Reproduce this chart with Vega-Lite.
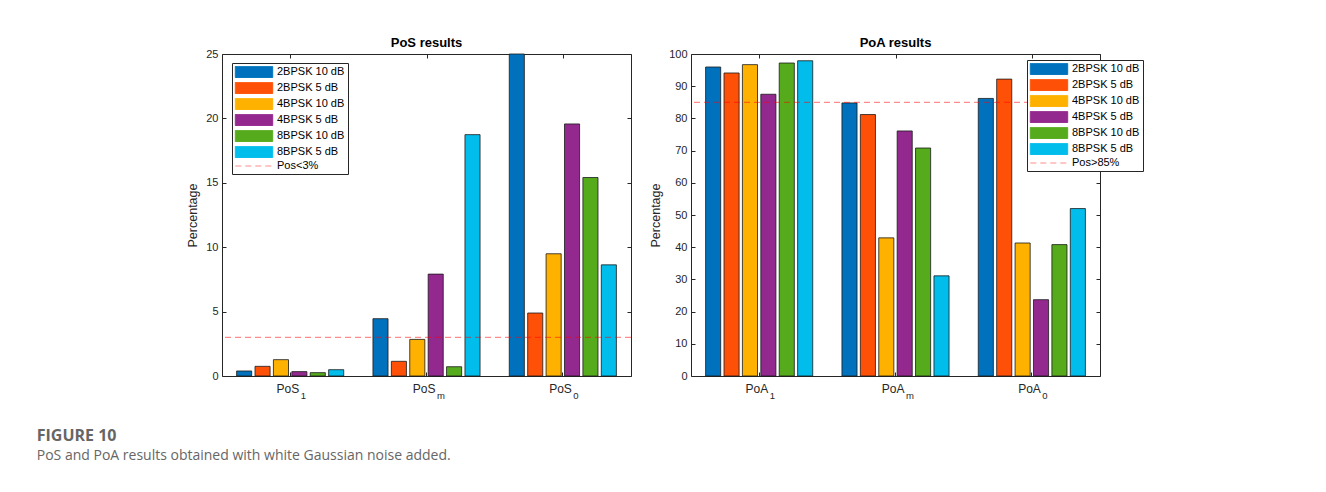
{
  "$schema": "https://vega.github.io/schema/vega-lite/v6.json",
  "background": "white",
  "padding": {"left": 36, "top": 36, "right": 0, "bottom": 0},
  "autosize": {"type": "pad"},
  "datasets": {
    "pos": [
      {"cat": "PoS1", "series": "2BPSK 10 dB", "value": 0.39},
      {"cat": "PoS1", "series": "2BPSK 5 dB", "value": 0.75},
      {"cat": "PoS1", "series": "4BPSK 10 dB", "value": 1.27},
      {"cat": "PoS1", "series": "4BPSK 5 dB", "value": 0.34},
      {"cat": "PoS1", "series": "8BPSK 10 dB", "value": 0.26},
      {"cat": "PoS1", "series": "8BPSK 5 dB", "value": 0.49},
      {"cat": "PoSm", "series": "2BPSK 10 dB", "value": 4.45},
      {"cat": "PoSm", "series": "2BPSK 5 dB", "value": 1.14},
      {"cat": "PoSm", "series": "4BPSK 10 dB", "value": 2.84},
      {"cat": "PoSm", "series": "4BPSK 5 dB", "value": 7.91},
      {"cat": "PoSm", "series": "8BPSK 10 dB", "value": 0.72},
      {"cat": "PoSm", "series": "8BPSK 5 dB", "value": 18.74},
      {"cat": "PoS0", "series": "2BPSK 10 dB", "value": 25},
      {"cat": "PoS0", "series": "2BPSK 5 dB", "value": 4.89},
      {"cat": "PoS0", "series": "4BPSK 10 dB", "value": 9.49},
      {"cat": "PoS0", "series": "4BPSK 5 dB", "value": 19.57},
      {"cat": "PoS0", "series": "8BPSK 10 dB", "value": 15.41},
      {"cat": "PoS0", "series": "8BPSK 5 dB", "value": 8.63}
    ],
    "poa": [
      {"cat": "PoA1", "series": "2BPSK 10 dB", "value": 95.96},
      {"cat": "PoA1", "series": "2BPSK 5 dB", "value": 94.1},
      {"cat": "PoA1", "series": "4BPSK 10 dB", "value": 96.7},
      {"cat": "PoA1", "series": "4BPSK 5 dB", "value": 87.5},
      {"cat": "PoA1", "series": "8BPSK 10 dB", "value": 97.2},
      {"cat": "PoA1", "series": "8BPSK 5 dB", "value": 97.9},
      {"cat": "PoAm", "series": "2BPSK 10 dB", "value": 84.8},
      {"cat": "PoAm", "series": "2BPSK 5 dB", "value": 81.2},
      {"cat": "PoAm", "series": "4BPSK 10 dB", "value": 42.9},
      {"cat": "PoAm", "series": "4BPSK 5 dB", "value": 76.1},
      {"cat": "PoAm", "series": "8BPSK 10 dB", "value": 70.8},
      {"cat": "PoAm", "series": "8BPSK 5 dB", "value": 31.1},
      {"cat": "PoA0", "series": "2BPSK 10 dB", "value": 86.2},
      {"cat": "PoA0", "series": "2BPSK 5 dB", "value": 92.2},
      {"cat": "PoA0", "series": "4BPSK 10 dB", "value": 41.3},
      {"cat": "PoA0", "series": "4BPSK 5 dB", "value": 23.7},
      {"cat": "PoA0", "series": "8BPSK 10 dB", "value": 40.8},
      {"cat": "PoA0", "series": "8BPSK 5 dB", "value": 52.0}
    ],
    "posLine": [{"series": "Pos<3%", "value": 3}],
    "poaLine": [{"series": "Pos>85%", "value": 85}]
  },
  "config": {
    "view": {"stroke": "#262626", "strokeWidth": 1},
    "font": "Liberation Sans",
    "axis": {
      "labelFont": "Liberation Sans", "labelFontSize": 11, "labelColor": "#262626",
      "tickColor": "#262626", "tickSize": -4, "tickWidth": 1, "domain": false, "grid": false,
      "titleFont": "Liberation Sans", "titleFontSize": 12.5, "titleFontWeight": "normal", "titleColor": "#262626"
    },
    "legend": {
      "orient": "none", "title": null,
      "strokeColor": "#262626", "fillColor": "white", "padding": 3, "rowPadding": 0,
      "labelFont": "Liberation Sans", "labelFontSize": 11, "labelColor": "#000",
      "symbolType": "M-3.4,-1H3.4V1H-3.4Z", "symbolSize": 121, "symbolOffset": 13, "labelOffset": 17,
      "symbolStrokeWidth": 1, "symbolStrokeColor": "#000", "symbolOpacity": 1
    }
  },
  "title": {
    "text": "FIGURE 10",
    "subtitle": "PoS and PoA results obtained with white Gaussian noise added.",
    "orient": "bottom", "anchor": "start", "dx": -149, "offset": 28,
    "font": "Open Sans", "fontSize": 16, "fontWeight": "bold", "color": "#666666",
    "subtitleFont": "Open Sans", "subtitleFontSize": 14, "subtitleColor": "#666666", "subtitlePadding": 5
  },
  "spacing": 15,
  "resolve": {"scale": {"color": "independent"}, "legend": {"color": "independent"}},
  "hconcat": [
    {
      "width": 409, "height": 322,
      "title": {"text": "PoS results", "font": "Liberation Sans", "fontSize": 13, "fontWeight": "bold", "color": "#000", "anchor": "middle", "offset": -2, "orient": "top"},
      "resolve": {"scale": {"x": "independent", "y": "independent"}, "axis": {"x": "independent", "y": "independent"}},
      "layer": [
        {
          "data": {"name": "pos"},
          "mark": {"type": "bar", "stroke": "#1a1a1a", "strokeWidth": 0.8},
          "encoding": {
            "x": {"field": "cat", "type": "nominal", "sort": null,
              "scale": {"domain": ["PoS1", "PoSm", "PoS0"], "paddingInner": 0.19, "paddingOuter": 0.095},
              "axis": {"orient": "bottom", "title": null, "labelAngle": 0, "labelExpr": "slice(datum.label,0,3)", "labelAlign": "right", "labelOffset": 9, "labelPadding": 11, "labelFontSize": 12}},
            "xOffset": {"field": "series", "type": "nominal", "sort": null,
              "scale": {"domain": ["2BPSK 10 dB", "2BPSK 5 dB", "4BPSK 10 dB", "4BPSK 5 dB", "8BPSK 10 dB", "8BPSK 5 dB"], "paddingInner": 0.18, "paddingOuter": 0.09}},
            "y": {"field": "value", "type": "quantitative",
              "scale": {"domain": [0, 25], "nice": false},
              "axis": {"orient": "left", "title": "Percentage", "values": [0, 5, 10, 15, 20, 25], "labelPadding": 8, "titlePadding": 6.5}},
            "color": {"field": "series", "type": "nominal", "sort": null,
              "scale": {"domain": ["2BPSK 10 dB", "2BPSK 5 dB", "4BPSK 10 dB", "4BPSK 5 dB", "8BPSK 10 dB", "8BPSK 5 dB", "Pos<3%"],
                "range": ["#0072BD", "#FF5008", "#FFB100", "#93288E", "#56AB1C", "#00BDEC", "rgba(255,0,0,0.45)"]},
              "legend": {"legendX": 10, "legendY": 9,
                "encode": {"symbols": {"update": {
                  "shape": {"signal": "datum.value == 'Pos<3%' ? 'M-3.4,0H3.4' : 'M-3.4,-1H3.4V1H-3.4Z'"},
                  "stroke": {"signal": "datum.value == 'Pos<3%' ? 'rgba(255,0,0,0.45)' : '#000'"},
                  "strokeDash": {"signal": "datum.value == 'Pos<3%' ? [6,4] : [1,0]"},
                  "fillOpacity": {"signal": "datum.value == 'Pos<3%' ? 0 : 1"}
                }}}}}
          }
        },
        {
          "data": {"name": "posLine"},
          "mark": {"type": "rule", "strokeDash": [6, 4], "strokeWidth": 1.2},
          "encoding": {
            "y": {"field": "value", "type": "quantitative", "scale": {"domain": [0, 25], "nice": false}, "axis": null},
            "color": {"field": "series", "type": "nominal"}
          }
        },
        {
          "data": {"name": "pos"},
          "mark": {"type": "point", "opacity": 0},
          "encoding": {
            "x": {"field": "cat", "type": "nominal", "sort": null, "scale": {"domain": ["PoS1", "PoSm", "PoS0"]},
              "axis": {"orient": "top", "title": null, "labels": false}},
            "y": {"field": "value", "type": "quantitative", "scale": {"domain": [0, 25], "nice": false},
              "axis": {"orient": "right", "title": null, "labels": false, "values": [0, 5, 10, 15, 20, 25]}}
          }
        },
        {
          "data": {"name": "pos"},
          "mark": {"type": "point", "opacity": 0},
          "encoding": {
            "x": {"field": "cat", "type": "nominal", "sort": null, "scale": {"domain": ["PoS1", "PoSm", "PoS0"]},
              "axis": {"orient": "bottom", "title": null, "ticks": false, "labelAngle": 0, "labelExpr": "slice(datum.label,3)", "labelAlign": "left", "labelOffset": 10, "labelPadding": 14, "labelFontSize": 9.5}},
            "y": {"field": "value", "type": "quantitative", "scale": {"domain": [0, 25], "nice": false}, "axis": null}
          }
        }
      ]
    },
    {
      "width": 409, "height": 322,
      "title": {"text": "PoA results", "font": "Liberation Sans", "fontSize": 13, "fontWeight": "bold", "color": "#000", "anchor": "middle", "offset": -2, "orient": "top"},
      "resolve": {"scale": {"x": "independent", "y": "independent"}, "axis": {"x": "independent", "y": "independent"}},
      "layer": [
        {
          "data": {"name": "poa"},
          "mark": {"type": "bar", "stroke": "#1a1a1a", "strokeWidth": 0.8},
          "encoding": {
            "x": {"field": "cat", "type": "nominal", "sort": null,
              "scale": {"domain": ["PoA1", "PoAm", "PoA0"], "paddingInner": 0.19, "paddingOuter": 0.095},
              "axis": {"orient": "bottom", "title": null, "labelAngle": 0, "labelExpr": "slice(datum.label,0,3)", "labelAlign": "right", "labelOffset": 9, "labelPadding": 11, "labelFontSize": 12}},
            "xOffset": {"field": "series", "type": "nominal", "sort": null,
              "scale": {"domain": ["2BPSK 10 dB", "2BPSK 5 dB", "4BPSK 10 dB", "4BPSK 5 dB", "8BPSK 10 dB", "8BPSK 5 dB"], "paddingInner": 0.18, "paddingOuter": 0.09}},
            "y": {"field": "value", "type": "quantitative",
              "scale": {"domain": [0, 100], "nice": false},
              "axis": {"orient": "left", "title": "Percentage", "values": [0, 10, 20, 30, 40, 50, 60, 70, 80, 90, 100], "labelPadding": 8, "titlePadding": 6.5}},
            "color": {"field": "series", "type": "nominal", "sort": null,
              "scale": {"domain": ["2BPSK 10 dB", "2BPSK 5 dB", "4BPSK 10 dB", "4BPSK 5 dB", "8BPSK 10 dB", "8BPSK 5 dB", "Pos>85%"],
                "range": ["#0072BD", "#FF5008", "#FFB100", "#93288E", "#56AB1C", "#00BDEC", "rgba(255,0,0,0.45)"]},
              "legend": {"legendX": 336, "legendY": 6,
                "encode": {"symbols": {"update": {
                  "shape": {"signal": "datum.value == 'Pos>85%' ? 'M-3.4,0H3.4' : 'M-3.4,-1H3.4V1H-3.4Z'"},
                  "stroke": {"signal": "datum.value == 'Pos>85%' ? 'rgba(255,0,0,0.45)' : '#000'"},
                  "strokeDash": {"signal": "datum.value == 'Pos>85%' ? [6,4] : [1,0]"},
                  "fillOpacity": {"signal": "datum.value == 'Pos>85%' ? 0 : 1"}
                }}}}}
          }
        },
        {
          "data": {"name": "poaLine"},
          "mark": {"type": "rule", "strokeDash": [6, 4], "strokeWidth": 1.2},
          "encoding": {
            "y": {"field": "value", "type": "quantitative", "scale": {"domain": [0, 100], "nice": false}, "axis": null},
            "color": {"field": "series", "type": "nominal"}
          }
        },
        {
          "data": {"name": "poa"},
          "mark": {"type": "point", "opacity": 0},
          "encoding": {
            "x": {"field": "cat", "type": "nominal", "sort": null, "scale": {"domain": ["PoA1", "PoAm", "PoA0"]},
              "axis": {"orient": "top", "title": null, "labels": false}},
            "y": {"field": "value", "type": "quantitative", "scale": {"domain": [0, 100], "nice": false},
              "axis": {"orient": "right", "title": null, "labels": false, "values": [0, 10, 20, 30, 40, 50, 60, 70, 80, 90, 100]}}
          }
        },
        {
          "data": {"name": "poa"},
          "mark": {"type": "point", "opacity": 0},
          "encoding": {
            "x": {"field": "cat", "type": "nominal", "sort": null, "scale": {"domain": ["PoA1", "PoAm", "PoA0"]},
              "axis": {"orient": "bottom", "title": null, "ticks": false, "labelAngle": 0, "labelExpr": "slice(datum.label,3)", "labelAlign": "left", "labelOffset": 10, "labelPadding": 14, "labelFontSize": 9.5}},
            "y": {"field": "value", "type": "quantitative", "scale": {"domain": [0, 100], "nice": false}, "axis": null}
          }
        }
      ]
    }
  ]
}
